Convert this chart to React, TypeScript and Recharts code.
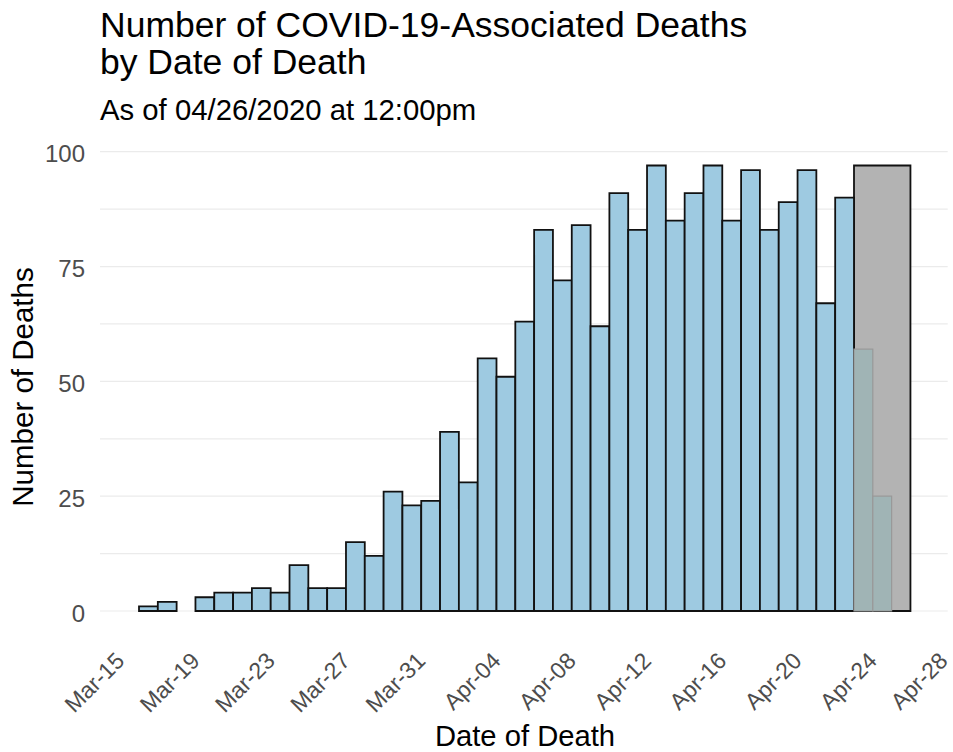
import React from 'react';
import { ComposedChart, Bar, XAxis, YAxis, CartesianGrid, ReferenceArea, Cell } from 'recharts';

// ---- data ----
const dates = [
  '2020-03-17', '2020-03-18', '2020-03-19', '2020-03-20', '2020-03-21', '2020-03-22', '2020-03-23',
  '2020-03-24', '2020-03-25', '2020-03-26', '2020-03-27', '2020-03-28', '2020-03-29', '2020-03-30',
  '2020-03-31', '2020-04-01', '2020-04-02', '2020-04-03', '2020-04-04', '2020-04-05', '2020-04-06',
  '2020-04-07', '2020-04-08', '2020-04-09', '2020-04-10', '2020-04-11', '2020-04-12', '2020-04-13',
  '2020-04-14', '2020-04-15', '2020-04-16', '2020-04-17', '2020-04-18', '2020-04-19', '2020-04-20',
  '2020-04-21', '2020-04-22', '2020-04-23', '2020-04-24', '2020-04-25',
];
const deaths = [
  1, 2, 0, 3, 4, 4, 5,
  4, 10, 5, 5, 15, 12, 26,
  23, 24, 39, 28, 55, 51, 63,
  83, 72, 84, 62, 91, 83, 97,
  85, 91, 97, 85, 96, 83, 89,
  96, 67, 90, 57, 25,
];
// days whose counts are still incomplete (shaded region)
const pendingStart = '2020-04-24';
const pendingEnd = '2020-04-26';
const pendingTop = 97;

const xTickDates = [
  '2020-03-15', '2020-03-19', '2020-03-23', '2020-03-27', '2020-03-31', '2020-04-04',
  '2020-04-08', '2020-04-12', '2020-04-16', '2020-04-20', '2020-04-24', '2020-04-28',
];
const yTicks = [0, 12.5, 25, 37.5, 50, 62.5, 75, 87.5, 100];
const yLabelTicks = [0, 25, 50, 75, 100];

const title1 = 'Number of COVID-19-Associated Deaths';
const title2 = 'by Date of Death';
const subtitle = 'As of 04/26/2020 at 12:00pm';
const xTitle = 'Date of Death';
const yTitle = 'Number of Deaths';

// ---- helpers ----
const DAY = 86400000;
const t = (s: string) => Date.parse(s + 'T00:00:00Z');
const MONTHS = ['Jan', 'Feb', 'Mar', 'Apr', 'May', 'Jun', 'Jul', 'Aug', 'Sep', 'Oct', 'Nov', 'Dec'];
const fmtDate = (v: number) => {
  const d = new Date(v);
  const dd = String(d.getUTCDate()).padStart(2, '0');
  return `${MONTHS[d.getUTCMonth()]}-${dd}`;
};

const data = dates.map((d, i) => ({ time: t(d), deaths: deaths[i], pending: t(d) >= t(pendingStart) }));

const xDomain = [t('2020-03-15') - 0.573 * DAY, t('2020-03-15') + 44.48 * DAY];
const yDomain = [-4.85, 101.85];

const W = 953;
const H = 752;
const plotLeft = 100;
const plotRight = 947.7;
const plotTop = 143.2;
const plotBottom = 633.3;
const barSize = (plotRight - plotLeft) / ((xDomain[1] - xDomain[0]) / DAY) - 0.01;

const FONT = '"Liberation Sans", Arial, Helvetica, sans-serif';
const TICK_COLOR = '#4d4d4d';

const XTick = (props: any) => {
  const { x, y, payload } = props;
  const px = Math.min(x + 15, W - 4);
  const py = y + 29;
  return (
    <text
      x={px}
      y={py}
      transform={`rotate(-45 ${px} ${py})`}
      textAnchor="end"
      fontSize={23}
      fontFamily={FONT}
      fill={TICK_COLOR}
    >
      {fmtDate(payload.value)}
    </text>
  );
};

const YTick = (props: any) => {
  const { x, y, payload } = props;
  if (!yLabelTicks.includes(payload.value)) return <g />;
  return (
    <text x={x} y={y + 10.5} textAnchor="end" fontSize={24} fontFamily={FONT} fill={TICK_COLOR}>
      {String(payload.value)}
    </text>
  );
};

export default function App() {
  return (
    <div style={{ position: 'absolute', left: 0, top: 0, width: W, height: H, background: '#fff' }}>
      <ComposedChart
        width={W}
        height={H}
        data={data}
        margin={{ top: plotTop, right: W - plotRight, bottom: H - plotBottom - 60, left: plotLeft - 60 }}
        barCategoryGap={0}
        barGap={0}
      >
        <CartesianGrid horizontal vertical={false} stroke="#ebebeb" strokeWidth={1.2} syncWithTicks />
        <XAxis
          dataKey="time"
          type="number"
          scale="linear"
          domain={xDomain}
          ticks={xTickDates.map(t)}
          allowDataOverflow
          axisLine={false}
          tickLine={false}
          tickSize={0}
          tickMargin={0}
          height={60}
          interval={0}
          tick={<XTick />}
        />
        <YAxis
          type="number"
          domain={yDomain}
          ticks={yTicks}
          allowDataOverflow
          axisLine={false}
          tickLine={false}
          tickSize={0}
          tickMargin={15}
          width={60}
          interval={0}
          tick={<YTick />}
        />
        <ReferenceArea
          x1={t(pendingStart) - 0.5 * DAY}
          x2={t(pendingEnd) + 0.5 * DAY}
          y1={0}
          y2={pendingTop}
          fill="#b3b3b3"
          fillOpacity={1}
          stroke="#111111"
          strokeWidth={1.8}
          ifOverflow="visible"
        />
        <Bar dataKey="deaths" barSize={barSize} isAnimationActive={false}>
          {data.map((d, i) => (
            <Cell
              key={i}
              fill={d.pending ? '#a0b4b5' : '#9ecae1'}
              stroke={d.pending ? '#999999' : '#111111'}
              strokeWidth={d.pending ? 1.2 : 1.8}
            />
          ))}
        </Bar>
      </ComposedChart>
      <svg
        width={W}
        height={H}
        style={{ position: 'absolute', left: 0, top: 0, pointerEvents: 'none' }}
      >
        <text x={100} y={37.3} fontSize={35.5} fontFamily={FONT} fill="#000">{title1}</text>
        <text x={100} y={74} fontSize={35.5} fontFamily={FONT} fill="#000">{title2}</text>
        <text x={100} y={119.5} fontSize={29.3} fontFamily={FONT} fill="#000">{subtitle}</text>
        <text x={525} y={745.5} fontSize={29.2} fontFamily={FONT} fill="#000" textAnchor="middle">{xTitle}</text>
        <text
          x={33.3}
          y={387}
          fontSize={29.5}
          fontFamily={FONT}
          fill="#000"
          textAnchor="middle"
          transform="rotate(-90 33.3 387)"
        >
          {yTitle}
        </text>
      </svg>
    </div>
  );
}
